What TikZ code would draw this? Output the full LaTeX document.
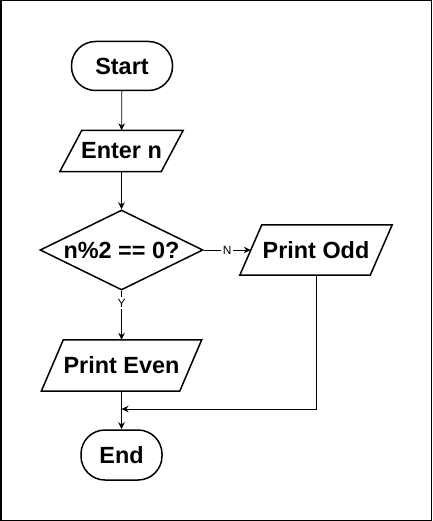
\documentclass[tikz,border=0pt]{standalone}
\usepackage{fontspec}
\setmainfont{Liberation Sans}
\usetikzlibrary{arrows.meta, shapes.geometric}

\tikzset{
  box font/.style={font=\bfseries\fontsize{23.5}{27}\selectfont},
  term/.style={draw, line width=1.5bp, rounded corners=24bp, minimum width=101bp,
    minimum height=49bp, inner sep=0pt, box font},
  io/.style={inner sep=0pt, box font},
  decision/.style={draw, diamond, aspect=2, line width=1.5bp, minimum width=163bp,
    minimum height=80bp, inner sep=0pt, box font},
  flow/.style={-{Stealth[length=7bp,width=6.5bp]}, line width=0.8bp},
  lbl/.style={fill=white, inner sep=1.5bp, font=\fontsize{12}{13}\selectfont},
}

\begin{document}
\begin{tikzpicture}[x=1bp, y=-1bp]
  \useasboundingbox (0,0) rectangle (432,521);
  \draw[line width=1.5bp] (0.75,0.75) rectangle (431.25,520.25);

  % Shapes
  \node[term] (start) at (122,66) {Start};
  \node[io, minimum width=101bp, minimum height=41bp] (enter) at (121.5,151) {Enter n};
  \node[decision] (check) at (121.5,250) {n\%2 == 0?};
  \node[io, minimum width=130bp, minimum height=50bp] (odd) at (316,250) {Print Odd};
  \node[io, minimum width=138bp, minimum height=51bp] (even) at (121.5,365.5) {Print Even};
  \node[term, minimum width=81bp, minimum height=50bp] (end) at (121.5,455) {End};
  \coordinate (join) at (121.5,409);

  % Parallelogram outlines for the input/output boxes
  \foreach \n in {enter, odd, even}
    \draw[line width=1.5bp] ([xshift=11bp]\n.north west) -- ([xshift=11bp]\n.north east)
      -- ([xshift=-11bp]\n.south east) -- ([xshift=-11bp]\n.south west) -- cycle;

  % Connectors
  \draw[flow] (start) -- (enter);
  \draw[flow] (enter) -- (check);
  \draw[flow] (check.east) -- node[lbl] (no) {N} (odd.west);
  \draw[flow] (check.south) -- node[lbl, pos=0.25] (yes) {Y} (even.north);
  \draw[flow] (even) -- (end);
  \draw[flow] (odd.south) |- (join);
\end{tikzpicture}
\end{document}
